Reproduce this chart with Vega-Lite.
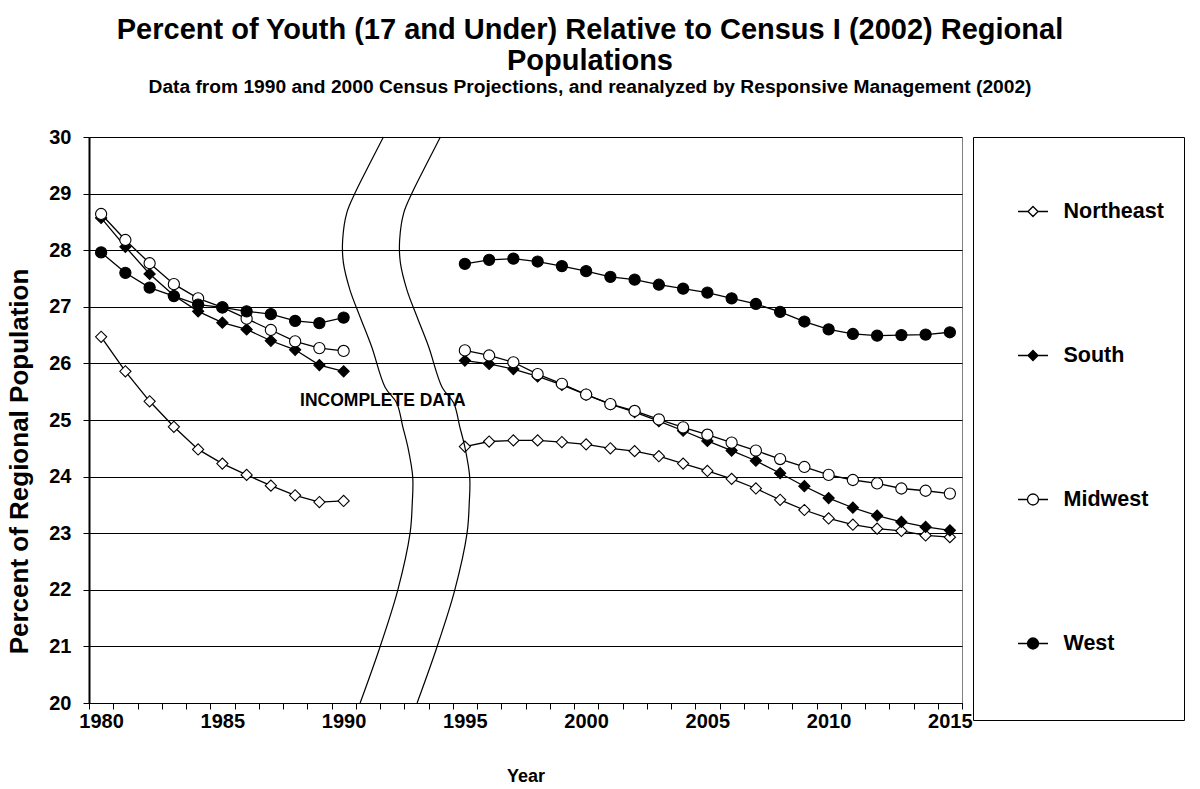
{
  "$schema": "https://vega.github.io/schema/vega-lite/v6.json",
  "autosize": {"type": "none"},
  "padding": {"left": 89, "top": 137, "right": 238, "bottom": 86},
  "width": 873,
  "height": 566,
  "background": "white",
  "title": {
    "text": ["Percent of Youth (17 and Under) Relative to Census I (2002) Regional", "Populations"],
    "subtitle": "Data from 1990 and 2000 Census Projections, and reanalyzed by Responsive Management (2002)",
    "anchor": "middle",
    "dx": 64.5,
    "offset": 30,
    "font": "Liberation Sans",
    "fontSize": 29,
    "fontWeight": "bold",
    "lineHeight": 31,
    "color": "black",
    "subtitleFont": "Liberation Sans",
    "subtitleFontSize": 19.2,
    "subtitleFontWeight": "bold",
    "subtitleColor": "black",
    "subtitlePadding": 2
  },
  "datasets": {
    "series": [
      {"r": "Northeast", "p": "a", "year": 1980, "value": 26.47},
      {"r": "Northeast", "p": "a", "year": 1981, "value": 25.86},
      {"r": "Northeast", "p": "a", "year": 1982, "value": 25.33},
      {"r": "Northeast", "p": "a", "year": 1983, "value": 24.88},
      {"r": "Northeast", "p": "a", "year": 1984, "value": 24.48},
      {"r": "Northeast", "p": "a", "year": 1985, "value": 24.23},
      {"r": "Northeast", "p": "a", "year": 1986, "value": 24.03},
      {"r": "Northeast", "p": "a", "year": 1987, "value": 23.84},
      {"r": "Northeast", "p": "a", "year": 1988, "value": 23.67},
      {"r": "Northeast", "p": "a", "year": 1989, "value": 23.55},
      {"r": "Northeast", "p": "a", "year": 1990, "value": 23.57},
      {"r": "Northeast", "p": "b", "year": 1995, "value": 24.53},
      {"r": "Northeast", "p": "b", "year": 1996, "value": 24.62},
      {"r": "Northeast", "p": "b", "year": 1997, "value": 24.64},
      {"r": "Northeast", "p": "b", "year": 1998, "value": 24.64},
      {"r": "Northeast", "p": "b", "year": 1999, "value": 24.61},
      {"r": "Northeast", "p": "b", "year": 2000, "value": 24.57},
      {"r": "Northeast", "p": "b", "year": 2001, "value": 24.50},
      {"r": "Northeast", "p": "b", "year": 2002, "value": 24.45},
      {"r": "Northeast", "p": "b", "year": 2003, "value": 24.36},
      {"r": "Northeast", "p": "b", "year": 2004, "value": 24.23},
      {"r": "Northeast", "p": "b", "year": 2005, "value": 24.10},
      {"r": "Northeast", "p": "b", "year": 2006, "value": 23.96},
      {"r": "Northeast", "p": "b", "year": 2007, "value": 23.79},
      {"r": "Northeast", "p": "b", "year": 2008, "value": 23.59},
      {"r": "Northeast", "p": "b", "year": 2009, "value": 23.41},
      {"r": "Northeast", "p": "b", "year": 2010, "value": 23.26},
      {"r": "Northeast", "p": "b", "year": 2011, "value": 23.15},
      {"r": "Northeast", "p": "b", "year": 2012, "value": 23.08},
      {"r": "Northeast", "p": "b", "year": 2013, "value": 23.04},
      {"r": "Northeast", "p": "b", "year": 2014, "value": 22.96},
      {"r": "Northeast", "p": "b", "year": 2015, "value": 22.93},
      {"r": "South", "p": "a", "year": 1980, "value": 28.57},
      {"r": "South", "p": "a", "year": 1981, "value": 28.06},
      {"r": "South", "p": "a", "year": 1982, "value": 27.58},
      {"r": "South", "p": "a", "year": 1983, "value": 27.20},
      {"r": "South", "p": "a", "year": 1984, "value": 26.92},
      {"r": "South", "p": "a", "year": 1985, "value": 26.72},
      {"r": "South", "p": "a", "year": 1986, "value": 26.60},
      {"r": "South", "p": "a", "year": 1987, "value": 26.40},
      {"r": "South", "p": "a", "year": 1988, "value": 26.24},
      {"r": "South", "p": "a", "year": 1989, "value": 25.97},
      {"r": "South", "p": "a", "year": 1990, "value": 25.86},
      {"r": "South", "p": "b", "year": 1995, "value": 26.05},
      {"r": "South", "p": "b", "year": 1996, "value": 25.99},
      {"r": "South", "p": "b", "year": 1997, "value": 25.90},
      {"r": "South", "p": "b", "year": 1998, "value": 25.77},
      {"r": "South", "p": "b", "year": 1999, "value": 25.62},
      {"r": "South", "p": "b", "year": 2000, "value": 25.45},
      {"r": "South", "p": "b", "year": 2001, "value": 25.28},
      {"r": "South", "p": "b", "year": 2002, "value": 25.14},
      {"r": "South", "p": "b", "year": 2003, "value": 24.98},
      {"r": "South", "p": "b", "year": 2004, "value": 24.81},
      {"r": "South", "p": "b", "year": 2005, "value": 24.63},
      {"r": "South", "p": "b", "year": 2006, "value": 24.46},
      {"r": "South", "p": "b", "year": 2007, "value": 24.28},
      {"r": "South", "p": "b", "year": 2008, "value": 24.06},
      {"r": "South", "p": "b", "year": 2009, "value": 23.83},
      {"r": "South", "p": "b", "year": 2010, "value": 23.62},
      {"r": "South", "p": "b", "year": 2011, "value": 23.45},
      {"r": "South", "p": "b", "year": 2012, "value": 23.31},
      {"r": "South", "p": "b", "year": 2013, "value": 23.20},
      {"r": "South", "p": "b", "year": 2014, "value": 23.11},
      {"r": "South", "p": "b", "year": 2015, "value": 23.05},
      {"r": "Midwest", "p": "a", "year": 1980, "value": 28.64},
      {"r": "Midwest", "p": "a", "year": 1981, "value": 28.18},
      {"r": "Midwest", "p": "a", "year": 1982, "value": 27.77},
      {"r": "Midwest", "p": "a", "year": 1983, "value": 27.40},
      {"r": "Midwest", "p": "a", "year": 1984, "value": 27.15},
      {"r": "Midwest", "p": "a", "year": 1985, "value": 26.99},
      {"r": "Midwest", "p": "a", "year": 1986, "value": 26.79},
      {"r": "Midwest", "p": "a", "year": 1987, "value": 26.59},
      {"r": "Midwest", "p": "a", "year": 1988, "value": 26.39},
      {"r": "Midwest", "p": "a", "year": 1989, "value": 26.27},
      {"r": "Midwest", "p": "a", "year": 1990, "value": 26.22},
      {"r": "Midwest", "p": "b", "year": 1995, "value": 26.23},
      {"r": "Midwest", "p": "b", "year": 1996, "value": 26.14},
      {"r": "Midwest", "p": "b", "year": 1997, "value": 26.02},
      {"r": "Midwest", "p": "b", "year": 1998, "value": 25.81},
      {"r": "Midwest", "p": "b", "year": 1999, "value": 25.64},
      {"r": "Midwest", "p": "b", "year": 2000, "value": 25.45},
      {"r": "Midwest", "p": "b", "year": 2001, "value": 25.28},
      {"r": "Midwest", "p": "b", "year": 2002, "value": 25.16},
      {"r": "Midwest", "p": "b", "year": 2003, "value": 25.01},
      {"r": "Midwest", "p": "b", "year": 2004, "value": 24.87},
      {"r": "Midwest", "p": "b", "year": 2005, "value": 24.74},
      {"r": "Midwest", "p": "b", "year": 2006, "value": 24.60},
      {"r": "Midwest", "p": "b", "year": 2007, "value": 24.46},
      {"r": "Midwest", "p": "b", "year": 2008, "value": 24.31},
      {"r": "Midwest", "p": "b", "year": 2009, "value": 24.17},
      {"r": "Midwest", "p": "b", "year": 2010, "value": 24.03},
      {"r": "Midwest", "p": "b", "year": 2011, "value": 23.94},
      {"r": "Midwest", "p": "b", "year": 2012, "value": 23.88},
      {"r": "Midwest", "p": "b", "year": 2013, "value": 23.79},
      {"r": "Midwest", "p": "b", "year": 2014, "value": 23.75},
      {"r": "Midwest", "p": "b", "year": 2015, "value": 23.70},
      {"r": "West", "p": "a", "year": 1980, "value": 27.96},
      {"r": "West", "p": "a", "year": 1981, "value": 27.60},
      {"r": "West", "p": "a", "year": 1982, "value": 27.34},
      {"r": "West", "p": "a", "year": 1983, "value": 27.19},
      {"r": "West", "p": "a", "year": 1984, "value": 27.04},
      {"r": "West", "p": "a", "year": 1985, "value": 26.99},
      {"r": "West", "p": "a", "year": 1986, "value": 26.92},
      {"r": "West", "p": "a", "year": 1987, "value": 26.87},
      {"r": "West", "p": "a", "year": 1988, "value": 26.75},
      {"r": "West", "p": "a", "year": 1989, "value": 26.71},
      {"r": "West", "p": "a", "year": 1990, "value": 26.81},
      {"r": "West", "p": "b", "year": 1995, "value": 27.76},
      {"r": "West", "p": "b", "year": 1996, "value": 27.83},
      {"r": "West", "p": "b", "year": 1997, "value": 27.85},
      {"r": "West", "p": "b", "year": 1998, "value": 27.80},
      {"r": "West", "p": "b", "year": 1999, "value": 27.72},
      {"r": "West", "p": "b", "year": 2000, "value": 27.63},
      {"r": "West", "p": "b", "year": 2001, "value": 27.53},
      {"r": "West", "p": "b", "year": 2002, "value": 27.48},
      {"r": "West", "p": "b", "year": 2003, "value": 27.39},
      {"r": "West", "p": "b", "year": 2004, "value": 27.32},
      {"r": "West", "p": "b", "year": 2005, "value": 27.25},
      {"r": "West", "p": "b", "year": 2006, "value": 27.15},
      {"r": "West", "p": "b", "year": 2007, "value": 27.05},
      {"r": "West", "p": "b", "year": 2008, "value": 26.91},
      {"r": "West", "p": "b", "year": 2009, "value": 26.74},
      {"r": "West", "p": "b", "year": 2010, "value": 26.60},
      {"r": "West", "p": "b", "year": 2011, "value": 26.52},
      {"r": "West", "p": "b", "year": 2012, "value": 26.49},
      {"r": "West", "p": "b", "year": 2013, "value": 26.50},
      {"r": "West", "p": "b", "year": 2014, "value": 26.51},
      {"r": "West", "p": "b", "year": 2015, "value": 26.55}
    ],
    "breaks": [
      {"c": "L", "i": 0, "year": 1991.64, "value": 30.0},
      {"c": "L", "i": 1, "year": 1991.09, "value": 29.54},
      {"c": "L", "i": 2, "year": 1990.47, "value": 29.01},
      {"c": "L", "i": 3, "year": 1990.13, "value": 28.66},
      {"c": "L", "i": 4, "year": 1989.96, "value": 28.18},
      {"c": "L", "i": 5, "year": 1989.99, "value": 27.78},
      {"c": "L", "i": 6, "year": 1990.26, "value": 27.30},
      {"c": "L", "i": 7, "year": 1990.68, "value": 26.82},
      {"c": "L", "i": 8, "year": 1991.16, "value": 26.29},
      {"c": "L", "i": 9, "year": 1991.71, "value": 25.58},
      {"c": "L", "i": 10, "year": 1992.19, "value": 25.30},
      {"c": "L", "i": 11, "year": 1992.44, "value": 24.88},
      {"c": "L", "i": 12, "year": 1992.65, "value": 24.52},
      {"c": "L", "i": 13, "year": 1992.85, "value": 23.99},
      {"c": "L", "i": 14, "year": 1992.83, "value": 23.53},
      {"c": "L", "i": 15, "year": 1992.74, "value": 23.00},
      {"c": "L", "i": 16, "year": 1992.23, "value": 21.99},
      {"c": "L", "i": 17, "year": 1991.50, "value": 20.99},
      {"c": "L", "i": 18, "year": 1990.68, "value": 20.0},
      {"c": "R", "i": 0, "year": 1993.99, "value": 30.0},
      {"c": "R", "i": 1, "year": 1993.44, "value": 29.54},
      {"c": "R", "i": 2, "year": 1992.82, "value": 29.01},
      {"c": "R", "i": 3, "year": 1992.48, "value": 28.66},
      {"c": "R", "i": 4, "year": 1992.31, "value": 28.18},
      {"c": "R", "i": 5, "year": 1992.34, "value": 27.78},
      {"c": "R", "i": 6, "year": 1992.61, "value": 27.30},
      {"c": "R", "i": 7, "year": 1993.03, "value": 26.82},
      {"c": "R", "i": 8, "year": 1993.51, "value": 26.29},
      {"c": "R", "i": 9, "year": 1994.06, "value": 25.58},
      {"c": "R", "i": 10, "year": 1994.54, "value": 25.30},
      {"c": "R", "i": 11, "year": 1994.79, "value": 24.88},
      {"c": "R", "i": 12, "year": 1995.00, "value": 24.52},
      {"c": "R", "i": 13, "year": 1995.20, "value": 23.99},
      {"c": "R", "i": 14, "year": 1995.18, "value": 23.53},
      {"c": "R", "i": 15, "year": 1995.09, "value": 23.00},
      {"c": "R", "i": 16, "year": 1994.58, "value": 21.99},
      {"c": "R", "i": 17, "year": 1993.85, "value": 20.99},
      {"c": "R", "i": 18, "year": 1993.03, "value": 20.0}
    ],
    "notes": [
      {"label": "INCOMPLETE DATA", "year": 1991.62, "value": 25.34}
    ]
  },
  "encoding": {
    "x": {
      "field": "year",
      "type": "quantitative",
      "scale": {"domain": [1979.5, 2015.5], "nice": false, "zero": false},
      "axis": {
        "title": "Year",
        "values": [1979.5, 1980.5, 1981.5, 1982.5, 1983.5, 1984.5, 1985.5, 1986.5, 1987.5, 1988.5, 1989.5, 1990.5, 1991.5, 1992.5, 1993.5, 1994.5, 1995.5, 1996.5, 1997.5, 1998.5, 1999.5, 2000.5, 2001.5, 2002.5, 2003.5, 2004.5, 2005.5, 2006.5, 2007.5, 2008.5, 2009.5, 2010.5, 2011.5, 2012.5, 2013.5, 2014.5, 2015.5],
        "labelExpr": "(datum.value + 0.5) % 5 == 0 ? format(datum.value + 0.5, 'd') : ''",
        "labelOffset": 12.1,
        "labelOverlap": false,
        "labelFlush": false,
        "labelBound": false,
        "labelPadding": 2,
        "grid": false,
        "tickSize": 6,
        "titlePadding": 36
      }
    },
    "y": {
      "field": "value",
      "type": "quantitative",
      "scale": {"domain": [20, 30], "nice": false, "zero": false},
      "axis": {
        "title": "Percent of Regional Population",
        "titleFontSize": 26,
        "titleY": 324,
        "values": [20, 21, 22, 23, 24, 25, 26, 27, 28, 29, 30],
        "grid": true,
        "gridColor": "#000000",
        "gridWidth": 1,
        "gridOpacity": 1,
        "tickSize": 6,
        "labelPadding": 12,
        "domainWidth": 2,
        "titlePadding": 16
      }
    }
  },
  "layer": [
    {
      "data": {"name": "series"},
      "mark": {"type": "line", "color": "black", "strokeWidth": 1.3},
      "encoding": {
        "detail": [{"field": "r", "type": "nominal"}, {"field": "p", "type": "nominal"}]
      }
    },
    {
      "data": {"name": "series"},
      "mark": {"type": "point", "filled": true, "stroke": "black", "strokeWidth": 1.1, "size": 125, "opacity": 1},
      "encoding": {
        "shape": {
          "field": "r", "type": "nominal",
          "scale": {"domain": ["Northeast", "South", "Midwest", "West"], "range": ["diamond", "diamond", "circle", "circle"]},
          "legend": null
        },
        "fill": {
          "field": "r", "type": "nominal",
          "scale": {"domain": ["Northeast", "South", "Midwest", "West"], "range": ["white", "black", "white", "black"]},
          "legend": null
        }
      }
    },
    {
      "data": {"name": "series"},
      "mark": {"type": "point", "filled": true, "stroke": "black", "strokeWidth": 1.3, "opacity": 0},
      "encoding": {
        "shape": {
          "field": "r", "type": "nominal",
          "scale": {"domain": ["Northeast", "South", "Midwest", "West"], "range": [
            "M-0.28,0L-0.0935,0M0.0935,0L0.28,0M-0.0935,0L0,-0.0935L0.0935,0L0,0.0935ZM0,-1M0,1",
            "M-0.28,0L-0.0935,0M0.0935,0L0.28,0M-0.0935,0L0,-0.0935L0.0935,0L0,0.0935ZM0,-1M0,1",
            "M-0.28,0L-0.103,0M0.103,0L0.28,0M-0.103,0A0.103,0.103,0,1,0,0.103,0A0.103,0.103,0,1,0,-0.103,0ZM0,-1M0,1",
            "M-0.28,0L-0.103,0M0.103,0L0.28,0M-0.103,0A0.103,0.103,0,1,0,0.103,0A0.103,0.103,0,1,0,-0.103,0ZM0,-1M0,1"
          ]},
          "legend": {
            "orient": "none", "legendX": 884, "legendY": 0, "title": null,
            "padding": 20, "strokeColor": "black", "fillColor": "white",
            "symbolSize": 11449, "rowPadding": 31, "symbolOffset": -14.5, "labelOffset": -24,
            "labelFont": "Liberation Sans", "labelFontSize": 21.5, "labelFontWeight": "bold", "labelColor": "black",
            "symbolStrokeColor": "black", "symbolStrokeWidth": 1.3, "symbolOpacity": 1,
            "encode": {"symbols": {"update": {"stroke": {"value": "black"}, "strokeWidth": {"value": 1.3}, "strokeOpacity": {"value": 1}, "opacity": {"value": 1}}}}
          }
        },
        "fill": {
          "field": "r", "type": "nominal",
          "scale": {"domain": ["Northeast", "South", "Midwest", "West"], "range": ["white", "black", "white", "black"]},
          "legend": {
            "orient": "none", "legendX": 884, "legendY": 0, "title": null,
            "padding": 20, "strokeColor": "black", "fillColor": "white",
            "symbolSize": 11449, "rowPadding": 31, "symbolOffset": -14.5, "labelOffset": -24,
            "labelFont": "Liberation Sans", "labelFontSize": 21.5, "labelFontWeight": "bold", "labelColor": "black",
            "symbolStrokeColor": "black", "symbolStrokeWidth": 1.3, "symbolOpacity": 1,
            "encode": {"symbols": {"update": {"stroke": {"value": "black"}, "strokeWidth": {"value": 1.3}, "strokeOpacity": {"value": 1}, "opacity": {"value": 1}}}}
          }
        }
      }
    },
    {
      "data": {"name": "breaks"},
      "mark": {"type": "line", "color": "black", "strokeWidth": 1.2, "interpolate": "catmull-rom"},
      "encoding": {
        "detail": {"field": "c", "type": "nominal"},
        "order": {"field": "i", "type": "quantitative"}
      }
    },
    {
      "data": {"name": "notes"},
      "mark": {"type": "text", "font": "Liberation Sans", "fontSize": 17.5, "fontWeight": "bold", "color": "black", "align": "center", "baseline": "middle"},
      "encoding": {
        "text": {"field": "label", "type": "nominal"}
      }
    }
  ],
  "resolve": {"scale": {"shape": "independent", "fill": "independent"}},
  "config": {
    "view": {"stroke": "#808080", "strokeWidth": 1},
    "axis": {
      "labelFont": "Liberation Sans",
      "labelFontSize": 20,
      "labelFontWeight": "bold",
      "labelColor": "black",
      "titleFont": "Liberation Sans",
      "titleFontSize": 18,
      "titleFontWeight": "bold",
      "titleColor": "black",
      "domainColor": "black",
      "tickColor": "black",
      "tickWidth": 1
    }
  }
}
